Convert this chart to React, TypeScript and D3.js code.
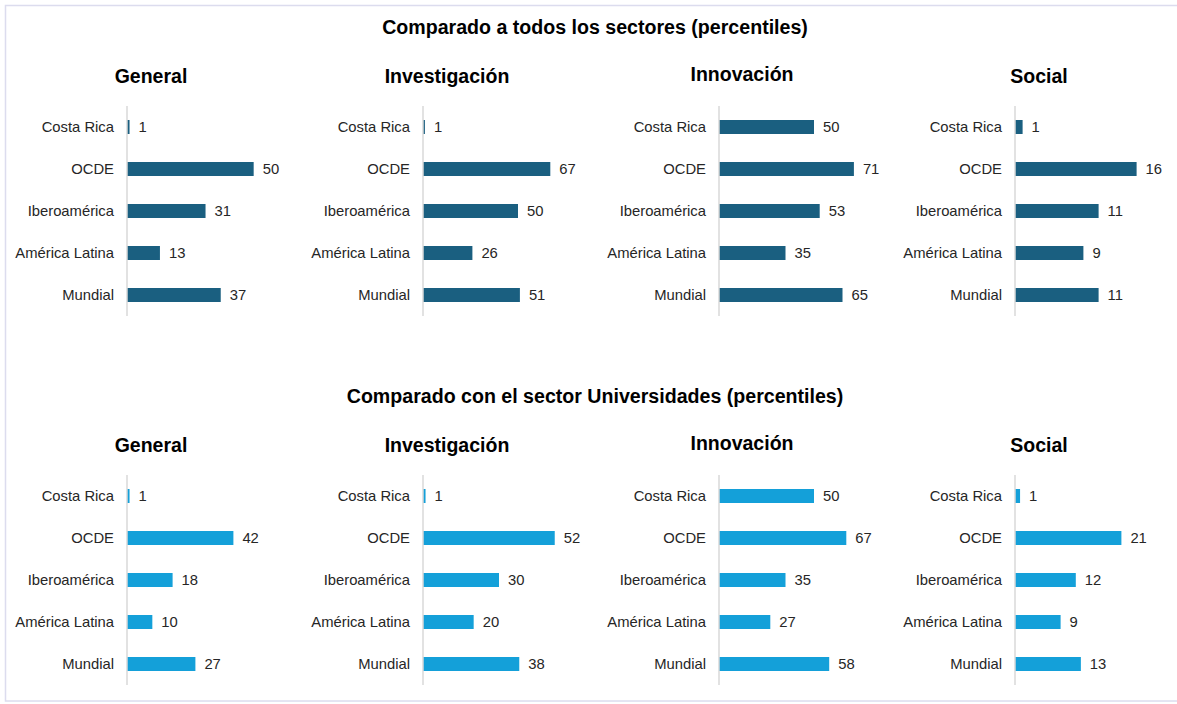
import React from "react";
import * as d3 from "d3";

const categories = ["Costa Rica", "OCDE", "Iberoamérica", "América Latina", "Mundial"];
const panels = ["General", "Investigación", "Innovación", "Social"];
const sectionTitles = [
  "Comparado a todos los sectores (percentiles)",
  "Comparado con el sector Universidades (percentiles)",
];
// Section 1: compared to all sectors
const allGeneral = [1, 50, 31, 13, 37];
const allInvestigacion = [1, 67, 50, 26, 51];
const allInnovacion = [50, 71, 53, 35, 65];
const allSocial = [1, 16, 11, 9, 11];
const allMax = [60, 80, 80, 20];
// Section 2: compared with university sector
const uniGeneral = [1, 42, 18, 10, 27];
const uniInvestigacion = [1, 52, 30, 20, 38];
const uniInnovacion = [50, 67, 35, 27, 58];
const uniSocial = [1, 21, 12, 9, 13];
const uniMax = [60, 60, 80, 30];

const sections = [
  { title: sectionTitles[0], series: [allGeneral, allInvestigacion, allInnovacion, allSocial], maxes: allMax, color: "#1a5f80" },
  { title: sectionTitles[1], series: [uniGeneral, uniInvestigacion, uniInnovacion, uniSocial], maxes: uniMax, color: "#14a0d9" },
];

const W = 1177;
const H = 704;
const FONT = "'Liberation Sans', Arial, sans-serif";

export default function App() {
  const sectionOffset = 369;
  const panelX = d3.scaleBand<number>().domain([0, 1, 2, 3]).range([127, 127 + 296 * 4]);
  const y = d3.scaleBand<string>().domain(categories).range([106, 316]).paddingInner(2 / 3).paddingOuter(1 / 3);
  const barW = 152;

  return (
    <svg width={W} height={H} style={{ position: "absolute", left: 0, top: 0, background: "#fff" }} fontFamily={FONT}>
      <rect x={5.5} y={5.5} width={W + 10} height={695.5} fill="#fff" stroke="#dcdcee" strokeWidth={1.5} />
      {sections.map((sec, si) => {
        const oy = si * sectionOffset;
        return (
          <g key={si} transform={`translate(0,${oy})`}>
            <text x={595} y={33.5} textAnchor="middle" fontWeight="bold" fontSize={19.6} fill="#000">
              {sec.title}
            </text>
            {panels.map((p, pi) => {
              const x0 = panelX(pi)!;
              const x = d3.scaleLinear().domain([0, sec.maxes[pi]]).range([0, barW]);
              const vals = sec.series[pi];
              return (
                <g key={pi} transform={`translate(${x0},0)`}>
                  <text x={pi === 2 ? 23 : 24} y={pi === 2 ? 81 : 82.5} textAnchor="middle" fontWeight="bold" fontSize={19.5} fill="#000">
                    {p}
                  </text>
                  {categories.map((c, ci) => {
                    const yy = y(c)!;
                    const bw = y.bandwidth();
                    const len = x(vals[ci]);
                    return (
                      <g key={ci}>
                        <text x={-13} y={yy + bw / 2 + 5} textAnchor="end" fontSize={14.8} fill="#262626">
                          {c}
                        </text>
                        <rect x={0} y={yy} width={len} height={bw} fill={sec.color} />
                        <text x={len + 9} y={yy + bw / 2 + 5} fontSize={14.8} fill="#262626">
                          {vals[ci]}
                        </text>
                      </g>
                    );
                  })}
                  <line x1={0} x2={0} y1={106} y2={316} stroke="#d9d9d9" strokeWidth={1.5} />
                </g>
              );
            })}
          </g>
        );
      })}
    </svg>
  );
}
